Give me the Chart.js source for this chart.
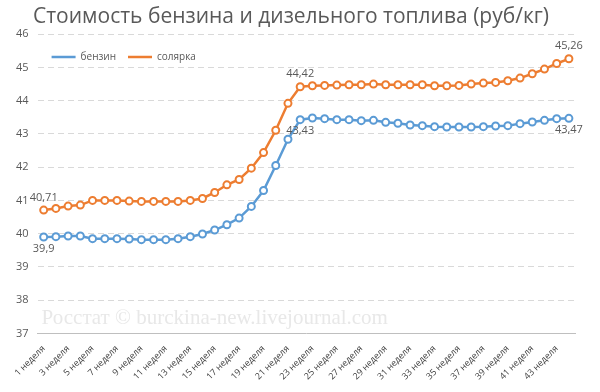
<!DOCTYPE html>
<html>
<head>
<meta charset="utf-8">
<script src="https://cdn.jsdelivr.net/npm/chart.js@4.4.1/dist/chart.umd.min.js"></script>
<style>
  html, body { margin: 0; padding: 0; background: #fff; }
  #wrap { width: 600px; height: 392px; }
</style>
</head>
<body>
<div id="wrap"><canvas id="fuel"></canvas></div>
<script>
// недели 1..44, подписи только у нечётных
var weeks = [];
for (var w = 1; w <= 44; w++) weeks.push(w + " неделя");

var benzin = [39.90, 39.91, 39.93, 39.93, 39.85, 39.85, 39.85, 39.84, 39.82, 39.82,
  39.82, 39.85, 39.91, 39.99, 40.11, 40.27, 40.47, 40.82, 41.30, 42.05,
  42.84, 43.43, 43.48, 43.46, 43.43, 43.43, 43.40, 43.41, 43.35, 43.32,
  43.27, 43.25, 43.22, 43.21, 43.21, 43.21, 43.22, 43.24, 43.25, 43.31,
  43.36, 43.41, 43.46, 43.47];

var solyarka = [40.71, 40.76, 40.83, 40.86, 41.00, 41.00, 41.00, 40.98, 40.97, 40.97,
  40.97, 40.97, 41.00, 41.06, 41.24, 41.47, 41.63, 41.97, 42.44, 43.11,
  43.92, 44.42, 44.45, 44.46, 44.47, 44.48, 44.48, 44.50, 44.48, 44.48,
  44.48, 44.48, 44.45, 44.45, 44.46, 44.50, 44.53, 44.55, 44.60, 44.68,
  44.81, 44.95, 45.12, 45.26];

var labeledPoints = [0, 21, 43];
var yMin = 37, yMax = 46;

var font = "'Open Sans', sans-serif";

// подписи значений, легенда и водяной знак
var extras = {
  id: 'extras',
  beforeDatasetsDraw: function (chart) {
    var c = chart.ctx, a = chart.chartArea;
    c.save();
    c.font = "21px 'Liberation Serif', serif";
    c.fillStyle = "#e8e8e8";
    c.textBaseline = "middle";
    c.fillText("Росстат © burckina-new.livejournal.com", a.left + 4, 318);
    c.restore();
  },
  afterDatasetsDraw: function (chart) {
    var c = chart.ctx, a = chart.chartArea;
    c.save();
    c.font = "11px " + font;
    c.fillStyle = "#595959";
    c.textAlign = "center";
    chart.data.datasets.forEach(function (ds, di) {
      var meta = chart.getDatasetMeta(di);
      labeledPoints.forEach(function (i) {
        var p = meta.data[i];
        var txt = String(ds.data[i]).replace('.', ',');
        if (di === 1) {
          c.textBaseline = "bottom";
          c.fillText(txt, p.x, p.y - 7);
        } else {
          c.textBaseline = "top";
          c.fillText(txt, p.x, p.y + 6);
        }
      });
    });
    // легенда
    c.font = "10px " + font;
    c.textAlign = "left";
    c.textBaseline = "middle";
    var x = a.left + 14, y = 57;
    chart.data.datasets.forEach(function (ds) {
      c.strokeStyle = ds.borderColor;
      c.lineWidth = 2.5;
      c.beginPath();
      c.moveTo(x, y);
      c.lineTo(x + 24, y);
      c.stroke();
      c.fillStyle = "#595959";
      c.fillText(ds.label, x + 29, y);
      x += 29 + c.measureText(ds.label).width + 12;
    });
    c.restore();
  }
};

var ctx = document.getElementById("fuel").getContext('2d');
var chart = new Chart(ctx, {
  type: 'line',
  data: {
    labels: weeks,
    datasets: [{
      label: "бензин",
      data: benzin,
      borderColor: "#5B9BD5",
      backgroundColor: "#ffffff",
      borderWidth: 2.5,
      pointRadius: 3.5,
      pointBorderWidth: 2,
      pointBackgroundColor: "#ffffff",
      tension: 0
    }, {
      label: "солярка",
      data: solyarka,
      borderColor: "#ED7D31",
      backgroundColor: "#ffffff",
      borderWidth: 2.5,
      pointRadius: 3.5,
      pointBorderWidth: 2,
      pointBackgroundColor: "#ffffff",
      tension: 0
    }]
  },
  options: {
    responsive: true,
    maintainAspectRatio: false,
    animation: false,
    layout: { padding: { left: 7, right: 25, top: 0, bottom: 8 } },
    plugins: {
      legend: { display: false },
      tooltip: { enabled: false },
      title: {
        display: true,
        text: "Стоимость бензина и дизельного топлива (руб/кг)",
        color: "#595959",
        font: { family: font, size: 21, weight: 'normal' },
        padding: { top: 4, bottom: 5 }
      }
    },
    scales: {
      x: {
        offset: true,
        grid: { display: false },
        border: { display: true, color: "#bfbfbf", width: 1 },
        ticks: {
          autoSkip: false,
          maxRotation: 45,
          minRotation: 45,
          color: "#404040",
          font: { family: font, size: 9 },
          padding: 2,
          callback: function (v, i) { return i % 2 === 0 ? weeks[i] : ""; }
        }
      },
      y: {
        min: yMin,
        max: yMax,
        grid: {
          drawTicks: false,
          color: function (c) { return c.tick && c.tick.value === yMin ? "rgba(0,0,0,0)" : "#d9d9d9"; }
        },
        border: { display: false, dash: [6, 4] },
        ticks: {
          stepSize: 1,
          padding: 9,
          color: "#595959",
          font: { family: font, size: 11 }
        }
      }
    }
  },
  plugins: [extras]
});
</script>
</body>
</html>
